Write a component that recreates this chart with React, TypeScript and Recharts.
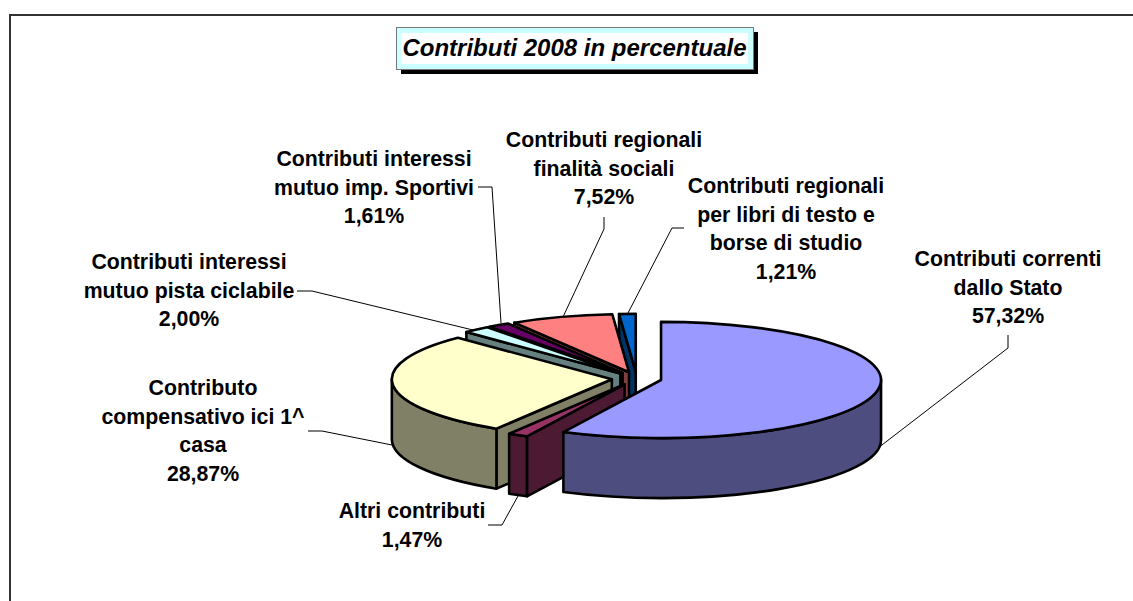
import { PieChart, Pie } from "recharts";

// listed back to front, the pie runs anticlockwise from 12 o'clock so the paint order works out
const sliceNames = [
  "Contributi regionali per libri di testo e borse di studio",
  "Contributi regionali finalità sociali",
  "Contributi interessi mutuo imp. Sportivi",
  "Contributi interessi mutuo pista ciclabile",
  "Contributo compensativo ici 1^ casa",
  "Altri contributi",
  "Contributi correnti dallo Stato",
];
const sliceValues = [1.21, 7.52, 1.61, 2.0, 28.87, 1.47, 57.32];
const labelLines = [
  ["Contributi regionali", "per libri di testo e", "borse di studio"],
  ["Contributi regionali", "finalità sociali"],
  ["Contributi interessi", "mutuo imp. Sportivi"],
  ["Contributi interessi", "mutuo pista ciclabile"],
  ["Contributo", "compensativo ici 1^", "casa"],
  ["Altri contributi"],
  ["Contributi correnti", "dallo Stato"],
];
const topColors = ["#0066CC", "#FF8080", "#660066", "#CCFFFF", "#FFFFCC", "#993366", "#9999FF"];
const wallColors = ["#003366", "#804040", "#330033", "#668080", "#808066", "#4D1A33", "#4D4D80"];

const chartData = sliceNames.map((name, i) => ({ name, value: sliceValues[i] }));

// label placement: centre x, first baseline, leader polyline
const labelLayout = [
  { x: 786, y: 193, leader: "684,228 672,228 628,313" },
  { x: 604, y: 147, leader: "604,217 604,229 563,317" },
  { x: 374, y: 166, leader: "478,187 492,187 501,323" },
  { x: 189, y: 269, leader: "297,291 312,291 473,330" },
  { x: 203, y: 395, leader: "308,431 322,431 392,445" },
  { x: 412, y: 518, leader: "488,525 502,525 518,496" },
  { x: 1008, y: 266, leader: "1008,335 1008,348 878,448" },
];

const FONT = "'Liberation Sans', Arial, sans-serif";
const SQUASH = 0.264;
const DEPTH = 60;
const EXPLODE = 25;
const LINE_HEIGHT = 28.5;

const rad = (d: number) => (d * Math.PI) / 180;

function Slice3D(props: any) {
  const { cx, cy, outerRadius, startAngle, endAngle, index } = props;
  // recharts angles are math-style, turn them into clockwise-from-top
  const sweep = Math.abs(endAngle - startAngle);
  const from = (((90 - Math.max(startAngle, endAngle)) % 360) + 360) % 360;
  const to = from + sweep;
  const mid = rad(from + sweep / 2);
  const rx = outerRadius;
  const ry = outerRadius * SQUASH;
  const ax = cx + EXPLODE * Math.sin(mid);
  const ay = cy - EXPLODE * SQUASH * Math.cos(mid);
  const pt = (deg: number, dy = 0) =>
    `${ax + rx * Math.sin(rad(deg))},${ay - ry * Math.cos(rad(deg)) + dy}`;

  const large = sweep > 180 ? 1 : 0;
  const top = `M${ax},${ay} L${pt(from)} A${rx},${ry} 0 ${large} 1 ${pt(to)} Z`;

  const wallFrom = Math.max(from, 90);
  const wallTo = Math.min(to, 270);
  const wall =
    wallTo > wallFrom
      ? `M${pt(wallFrom)} A${rx},${ry} 0 0 1 ${pt(wallTo)} L${pt(wallTo, DEPTH)} A${rx},${ry} 0 0 0 ${pt(wallFrom, DEPTH)} Z`
      : null;
  const showCut = Math.sin(rad(from)) < -0.001;
  const cut = showCut
    ? `M${ax},${ay} L${pt(from)} L${pt(from, DEPTH)} L${ax},${ay + DEPTH} Z`
    : null;

  const line = { stroke: "#000", strokeWidth: 2.6, strokeLinejoin: "round" as const };
  return (
    <g>
      {cut && <path d={cut} fill={wallColors[index]} {...line} />}
      {wall && <path d={wall} fill={wallColors[index]} {...line} />}
      <path d={top} fill={topColors[index]} {...line} />
    </g>
  );
}

function SliceLabel(props: any) {
  const { index } = props;
  const layout = labelLayout[index];
  const lines = [...labelLines[index], `${sliceValues[index].toFixed(2).replace(".", ",")}%`];
  return (
    <g>
      <polyline points={layout.leader} fill="none" stroke="#000" strokeWidth={1} />
      <text textAnchor="middle" fontFamily={FONT} fontWeight="bold" fontSize={21.3} fill="#000">
        {lines.map((t, i) => (
          <tspan key={i} x={layout.x} y={layout.y + i * LINE_HEIGHT}>
            {t}
          </tspan>
        ))}
      </text>
    </g>
  );
}

export default function App() {
  return (
    <div style={{ position: "absolute", left: 0, top: 0, width: 1133, height: 601, background: "#fff", overflow: "hidden" }}>
      <PieChart width={1133} height={601} margin={{ top: 0, right: 0, bottom: 0, left: 0 }}>
        <polyline points="10,601 10,15 1133,15" fill="none" stroke="#333" strokeWidth={2} />
        <rect x={401} y={32} width={357} height={42} fill="#000" />
        <rect x={396.5} y={27.5} width={357} height={42} fill="#CCFFFF" stroke="#777" strokeWidth={1} />
        <rect x={401} y={33} width={347} height={31} fill="#fff" />
        <text x={574.5} y={55.5} textAnchor="middle" fontFamily={FONT} fontWeight="bold" fontStyle="italic" fontSize={24} fill="#000">
          Contributi 2008 in percentuale
        </text>
        <Pie
          data={chartData}
          dataKey="value"
          nameKey="name"
          cx={636.7}
          cy={378.5}
          innerRadius={0}
          outerRadius={220}
          startAngle={90}
          endAngle={450}
          isAnimationActive={false}
          shape={Slice3D}
          label={SliceLabel}
          labelLine={false}
        />
      </PieChart>
    </div>
  );
}
